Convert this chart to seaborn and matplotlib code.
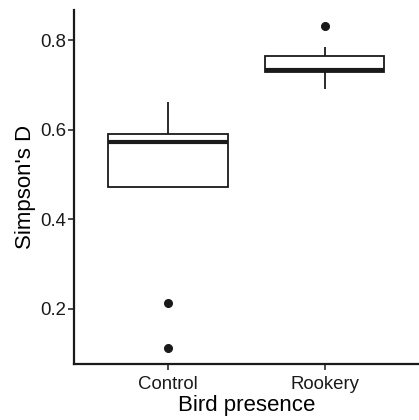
import matplotlib
matplotlib.use("Agg")
import matplotlib.pyplot as plt
import seaborn as sns
import pandas as pd

# Data (chosen so the box statistics match)
control_values = [0.112, 0.214, 0.472, 0.55, 0.574, 0.58, 0.590, 0.62, 0.663]
rookery_values = [0.691, 0.72, 0.729, 0.731, 0.733, 0.75, 0.766, 0.785, 0.833]
categories = ["Control", "Rookery"]
y_ticks = [0.2, 0.4, 0.6, 0.8]
y_tick_labels = ["0.2", "0.4", "0.6", "0.8"]

df = pd.DataFrame({
    "group": [categories[0]] * len(control_values) + [categories[1]] * len(rookery_values),
    "value": control_values + rookery_values,
})

sns.set_theme(style="ticks")
plt.rcParams["font.family"] = ["Liberation Sans", "DejaVu Sans"]

fig = plt.figure(figsize=(4.19, 4.20), dpi=100)
ax = fig.add_axes([0.1766, 0.1333, 0.8234, 0.8440])

sns.boxplot(
    data=df, x="group", y="value", order=categories, ax=ax,
    color="white", linecolor="#1a1a1a", linewidth=1.3, width=0.76,
    showcaps=False, whis=1.5,
    medianprops=dict(linewidth=3.0, color="#1a1a1a"),
    flierprops=dict(marker="o", markerfacecolor="#1a1a1a", markeredgecolor="#1a1a1a",
                    markersize=5.5),
)

ax.set_xlim(-0.6, 1.6)
ax.set_ylim(0.0771, 0.869)
ax.set_yticks(y_ticks)
ax.set_yticklabels(y_tick_labels)
ax.set_xlabel("Bird presence", fontsize=16, color="black", labelpad=1.5)
ax.set_ylabel("Simpson's D", fontsize=16, color="black", labelpad=3)
ax.tick_params(axis="both", labelsize=13.4, labelcolor="#1a1a1a", color="#1a1a1a",
               length=4, width=1.1)
ax.tick_params(axis="y", pad=1.5)
ax.tick_params(axis="x", pad=4.5)
sns.despine(ax=ax)
for s in ["left", "bottom"]:
    ax.spines[s].set_color("#1a1a1a")
    ax.spines[s].set_linewidth(1.6)

fig.savefig("out.png", dpi=100, facecolor="white")
